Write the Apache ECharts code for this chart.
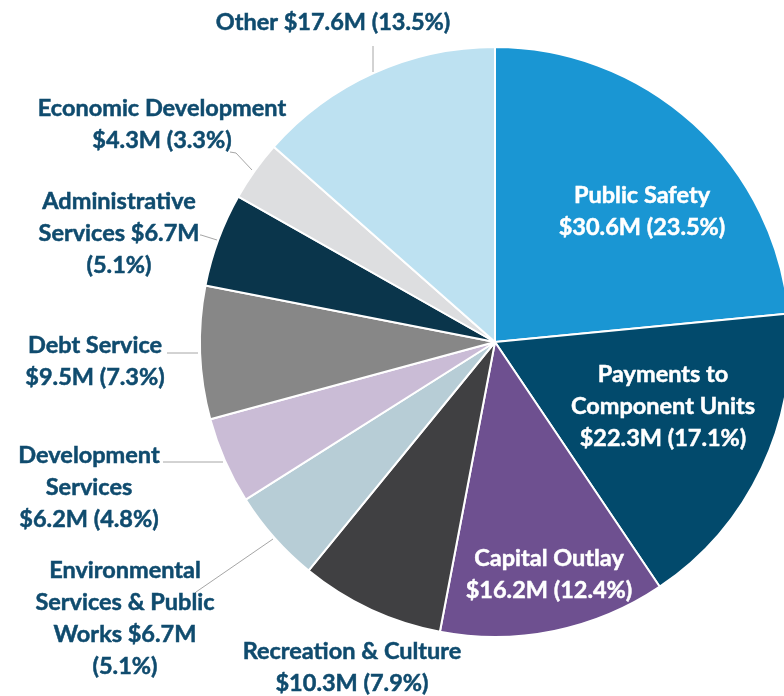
<!DOCTYPE html>
<html>
<head>
<meta charset="utf-8">
<style>
html,body{margin:0;padding:0;background:#fff;}
#chart{width:784px;height:696px;}
</style>
<script src="https://cdn.jsdelivr.net/npm/echarts@6/dist/echarts.min.js"></script>
</head>
<body>
<div id="chart"></div>
<script>
// ---- data ----
const categories = ['Public Safety','Payments to Component Units','Capital Outlay','Recreation & Culture','Environmental Services & Public Works','Development Services','Debt Service','Administrative Services','Economic Development','Other'];
const valuesM = [30.6, 22.3, 16.2, 10.3, 6.7, 6.2, 9.5, 6.7, 4.3, 17.6];
const percents = [23.5, 17.1, 12.4, 7.9, 5.1, 4.8, 7.3, 5.1, 3.3, 13.5];
// label text templates ({v} = value, {p} = percent)
const labelTemplates = [
  'Public Safety\n{v} ({p})',
  'Payments to\nComponent Units\n{v} ({p})',
  'Capital Outlay\n{v} ({p})',
  'Recreation & Culture\n{v} ({p})',
  'Environmental\nServices & Public\nWorks {v}\n({p})',
  'Development\nServices\n{v} ({p})',
  'Debt Service\n{v} ({p})',
  'Administrative\nServices {v}\n({p})',
  'Economic Development\n{v} ({p})',
  'Other {v} ({p})'
];

// ---- styling / layout ----
const colors = ['#1a96d3','#024a6c','#6e5090','#404042','#b7cdd6','#cabcd6','#878787','#0a354b','#dddee0','#bde1f1'];
const insideLabel = [true,true,true,false,false,false,false,false,false,false];
const labelCenters = [
  [642,211],[663,406],[549,574],[352,667],[125,618],[89,487],[95,361],[119,233],[162,124],[333,22]
];
const lineLinks = [
  null,null,null,null,
  [[273,539],[196,592],[195,593]],
  [[223,462],[190,462],[163,462]],
  [[198,353],[180,353],[167,353]],
  [[217,240],[201,235],[200,235]],
  [[252,170],[236,153],[230,152]],
  [[373,72],[373,60],[373,46]]
];

const seriesData = categories.map((c, i) => {
  const col = insideLabel[i] ? '#ffffff' : '#0f4b6e';
  return {
    name: c,
    value: valuesM[i],
    itemStyle: { color: colors[i] },
    label: { color: col, textBorderColor: col, textBorderWidth: 0.5 },
    labelLine: { show: !!lineLinks[i] }
  };
});

const chart = echarts.init(document.getElementById('chart'), null, {renderer:'canvas'});
chart.setOption({
  backgroundColor: '#ffffff',
  animation: false,
  series: [{
    type: 'pie',
    center: [495, 342],
    radius: [0, 295],
    startAngle: 90,
    clockwise: true,
    avoidLabelOverlap: false,
    emphasis: { disabled: true },
    itemStyle: { borderColor: '#ffffff', borderWidth: 2 },
    label: {
      show: true,
      position: 'outside',
      fontFamily: 'Lato',
      fontWeight: 'bold',
      fontSize: 23.5,
      lineHeight: 32,
      align: 'center',
      formatter: function (p) {
        const i = p.dataIndex;
        return labelTemplates[i]
          .replace('{v}', '$' + valuesM[i].toFixed(1) + 'M')
          .replace('{p}', percents[i].toFixed(1) + '%');
      }
    },
    labelLine: {
      show: true,
      lineStyle: { color: '#a6a6a6', width: 1 }
    },
    labelLayout: function (params) {
      const i = params.dataIndex;
      const res = {
        x: labelCenters[i][0],
        y: labelCenters[i][1],
        align: 'center',
        verticalAlign: 'middle'
      };
      if (lineLinks[i]) res.labelLinePoints = lineLinks[i];
      return res;
    },
    data: seriesData
  }]
});
</script>
</body>
</html>
